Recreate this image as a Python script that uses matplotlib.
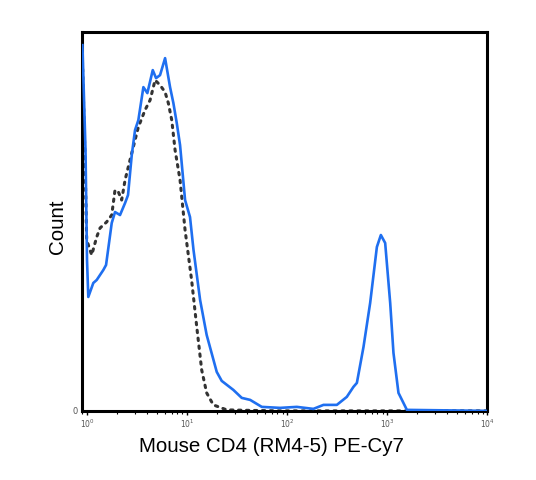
import numpy as np
import matplotlib
matplotlib.use('Agg')
import matplotlib.pyplot as plt
from matplotlib.ticker import LogLocator, NullFormatter

# stained sample (blue)
blue_x = [0.90, 0.966, 1.0, 1.03, 1.156, 1.25, 1.456, 1.55, 1.766, 1.905, 2.138, 2.40, 2.57,
          2.80, 3.02, 3.26, 3.66, 4.01, 4.54, 4.90, 5.37, 6.03, 6.76, 7.30, 7.89, 8.51,
          9.55, 10.7, 11.6, 13.5, 15.7, 19.8, 22.2, 29.0, 35.2, 42.7, 55.8, 85.1, 125,
          183, 231, 314, 395, 460, 498, 580, 676, 789, 865, 955, 1072, 1156, 1297, 1574, 9930]
blue_c = [366, 261, 151, 114, 128, 131, 141, 146, 188, 199, 196, 208, 216,
          256, 281, 291, 324, 318, 341, 333, 336, 353, 324, 308, 288, 266,
          211, 194, 161, 111, 76, 39, 30, 21, 13, 11, 4, 3, 4,
          2, 6, 6, 14, 24, 28, 64, 108, 164, 176, 168, 108, 58, 18, 1, 0]

# isotype control (black dotted)
ctrl_x = [0.90, 0.95, 0.993, 1.114, 1.25, 1.35, 1.57, 1.766, 1.905, 2.06, 2.22, 2.40, 2.69,
          3.02, 3.26, 3.80, 4.27, 4.79, 5.37, 6.03, 6.50, 7.03, 7.59, 8.51, 9.55, 11.1,
          12.5, 14.0, 15.7, 18.3, 24.9, 42.7, 85.0, 9930]
ctrl_c = [350, 261, 171, 156, 174, 183, 189, 196, 221, 219, 211, 231, 251,
          271, 284, 301, 311, 331, 326, 319, 308, 291, 261, 231, 181, 131,
          84, 41, 18, 6, 1, 0.5, 0, 0]

fig = plt.figure(figsize=(5.36, 4.8), dpi=100)
ax = fig.add_axes([0.153, 0.144, 0.756, 0.789])

ax.plot(ctrl_x, ctrl_c, color='#333333', lw=2.2, linestyle=(0, (0.8, 1.8)),
        dash_capstyle='round', zorder=2)
ax.plot(blue_x, blue_c, color='#1f6ff0', lw=1.9, zorder=3)

ax.set_xscale('log')
ax.set_xlim(10 ** -0.05, 1e4)
ax.set_ylim(0, 379)

for s in ax.spines.values():
    s.set_linewidth(2.2)
    s.set_color('black')

ax.xaxis.set_major_locator(LogLocator(base=10, numticks=10))
ax.xaxis.set_minor_locator(LogLocator(base=10, subs=np.arange(2, 10), numticks=10))
ax.xaxis.set_minor_formatter(NullFormatter())
ax.set_xticks([1, 10, 100, 1000, 10000])
ax.set_xticklabels(['$10^0$', '$10^1$', '$10^2$', '$10^3$', '$10^4$'], fontsize=5.5, color='#555555')
ax.tick_params(axis='x', which='major', length=3, width=1, pad=2)
ax.tick_params(axis='x', which='minor', length=2, width=0.8)
ax.set_yticks([0])
ax.set_yticklabels(['0'], fontsize=6, color='#555555')
ax.tick_params(axis='y', length=0, pad=3)

ax.set_xlabel('Mouse CD4 (RM4-5) PE-Cy7', fontsize=14.8, family='Liberation Sans', labelpad=5)
ax.xaxis.label.set_x(0.467)
ax.set_ylabel('Count', fontsize=14.8, family='Liberation Sans', labelpad=4)
ax.yaxis.label.set_y(0.485)

fig.savefig('out.png', dpi=100, facecolor='white')
